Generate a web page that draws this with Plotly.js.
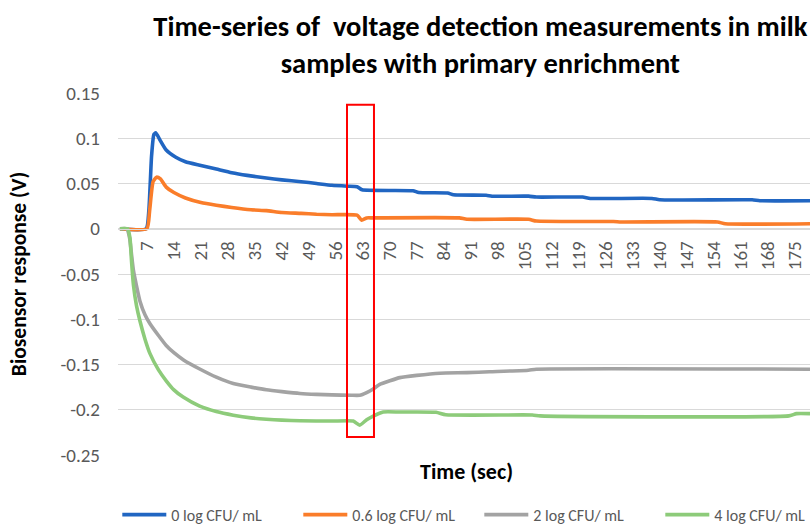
<!DOCTYPE html>
<html>
<head>
<meta charset="utf-8">
<script src="https://cdn.plot.ly/plotly-3.0.1.min.js"></script>
<style>html,body{margin:0;padding:0;background:#fff;}#chart{width:810px;height:526px;}</style>
</head>
<body>
<div id="chart"></div>
<script>
// ---- data ----
const seriesNames = ["0 log CFU/ mL", "0.6 log CFU/ mL", "2 log CFU/ mL", "4 log CFU/ mL"];

const t0 = [0, 6.8, 7.5, 8.2, 8.8, 9.3, 10.4, 12, 14.5, 17, 21, 25, 29, 33, 38, 42, 47, 51, 55, 59, 61.5, 62.8, 76, 77.5, 85, 86.5, 95, 96.5, 106, 108, 120, 122, 138, 140, 164, 166, 179];
const v0 = [0, 0, 0.02, 0.08, 0.104, 0.106, 0.098, 0.087, 0.079, 0.074, 0.070, 0.066, 0.062, 0.059, 0.056, 0.054, 0.052, 0.050, 0.048, 0.047, 0.0465, 0.043, 0.042, 0.040, 0.0395, 0.0375, 0.037, 0.036, 0.036, 0.035, 0.035, 0.0335, 0.0335, 0.032, 0.032, 0.031, 0.031];

const t1 = [0, 7, 7.7, 8.6, 9.5, 10.5, 12, 14, 17, 21, 25, 29, 34, 38, 42, 47, 51, 55, 61.5, 62.7, 64, 65.7, 88, 90, 106, 108, 128, 130, 155, 157, 179];
const v1 = [0, 0, 0.02, 0.052, 0.057, 0.055, 0.046, 0.040, 0.034, 0.029, 0.026, 0.0235, 0.021, 0.020, 0.018, 0.017, 0.016, 0.0155, 0.015, 0.0095, 0.012, 0.012, 0.012, 0.0105, 0.0105, 0.0085, 0.008, 0.0075, 0.0075, 0.0055, 0.0055];

const t2 = [0, 1.8, 2.5, 3, 3.5, 4.3, 5.2, 6.5, 7.8, 10, 12, 14, 16.5, 20.7, 25, 29.4, 34, 38, 42, 46.7, 51, 55, 60, 62.2, 64, 65.7, 67.4, 70, 72.6, 77, 83, 90, 95.9, 106, 108, 179];
const v2 = [0, 0, -0.01, -0.028, -0.046, -0.063, -0.080, -0.095, -0.105, -0.118, -0.129, -0.137, -0.145, -0.155, -0.164, -0.171, -0.175, -0.178, -0.180, -0.182, -0.183, -0.1836, -0.184, -0.184, -0.181, -0.177, -0.172, -0.168, -0.1645, -0.162, -0.1596, -0.159, -0.158, -0.1563, -0.1552, -0.1552];

const t3 = [0, 2, 2.6, 3, 3.5, 4.3, 5.2, 6.5, 7.8, 10, 12, 14, 16.4, 20.7, 25, 29.4, 34, 38, 42, 46.7, 55, 60.5, 62.2, 64, 65.7, 68.3, 72.6, 82, 84.5, 107, 109, 173.5, 175.5, 179];
const v3 = [0, 0, -0.01, -0.035, -0.062, -0.085, -0.102, -0.122, -0.138, -0.156, -0.168, -0.178, -0.186, -0.196, -0.202, -0.206, -0.209, -0.2105, -0.2115, -0.2122, -0.2125, -0.2125, -0.217, -0.211, -0.207, -0.2025, -0.2025, -0.2028, -0.2055, -0.2058, -0.2068, -0.2068, -0.2043, -0.2043];

const xTickVals = [7, 14, 21, 28, 35, 42, 49, 56, 63, 70, 77, 84, 91, 98, 105, 112, 119, 126, 133, 140, 147, 154, 161, 168, 175];
const yTickVals = [0.15, 0.1, 0.05, 0, -0.05, -0.1, -0.15, -0.2, -0.25];
const yTickText = ["0.15", "0.1", "0.05", "0", "-0.05", "-0.1", "-0.15", "-0.2", "-0.25"];

const colors = ["#2166c2", "#fa7d2a", "#a3a3a3", "#8dcb7a"];
const FONT = "Carlito, Calibri, Lato, sans-serif";

const xs = [t0, t1, t2, t3];
const ys = [v0, v1, v2, v3];
const traces = seriesNames.map((n, i) => ({
  x: xs[i], y: ys[i], name: n, type: "scatter", mode: "lines",
  line: {color: colors[i], width: 3.6, shape: "spline", smoothing: 0.5}
}));

const yMin = -0.25, yMax = 0.15;
const layout = {
  width: 810, height: 526,
  margin: {l: 118, r: 0, t: 93, b: 71, autoexpand: false},
  paper_bgcolor: "#fff", plot_bgcolor: "#fff",
  font: {family: FONT, color: "#595959", size: 16},
  title: {
    text: "Time-series of\u00a0 voltage detection measurements in milk<br>samples with primary enrichment",
    font: {family: FONT, size: 28.5, color: "#000", weight: "bold"},
    xref: "container", x: 0.593, xanchor: "center",
    yref: "container", y: 0.932, yanchor: "top"
  },
  xaxis: {
    range: [-0.5, 179], anchor: "free", position: (0 - yMin) / (yMax - yMin),
    tickmode: "array", tickvals: xTickVals, tickangle: -90,
    showgrid: false, zeroline: false, showline: true, linecolor: "#d9d9d9", linewidth: 1,
    ticks: "", ticklabelstandoff: 4,
    tickfont: {family: FONT, size: 19, color: "#595959"}
  },
  yaxis: {
    range: [yMin, yMax], tickmode: "array", tickvals: yTickVals, ticktext: yTickText,
    showgrid: true, gridcolor: "#d9d9d9", gridwidth: 1, zeroline: false, showline: false,
    ticks: "", ticklabelstandoff: 17,
    tickfont: {family: FONT, size: 19, color: "#595959"},
    title: {text: "Biosensor response (V)", font: {family: FONT, size: 21.5, color: "#000", weight: "bold"}, standoff: 27}
  },
  showlegend: true,
  legend: {
    orientation: "h", x: -0.001, xanchor: "left", y: -0.165, yanchor: "middle",
    font: {family: FONT, size: 16, color: "#595959"},
    itemwidth: 44,
    entrywidth: 122, entrywidthmode: "pixels", traceorder: "normal"
  },
  annotations: [{
    text: "Time (sec)", xref: "paper", yref: "paper", x: 0.503, y: -0.045,
    xanchor: "center", yanchor: "middle", showarrow: false,
    font: {family: FONT, size: 22, color: "#000", weight: "bold"}
  }],
  shapes: [{
    type: "rect", xref: "x", yref: "y", x0: 58.9, x1: 65.9, y0: -0.23, y1: 0.137,
    line: {color: "#ff0000", width: 2}, fillcolor: "rgba(0,0,0,0)"
  }]
};

Plotly.newPlot("chart", traces, layout, {displayModeBar: false, responsive: false});
</script>
</body>
</html>
